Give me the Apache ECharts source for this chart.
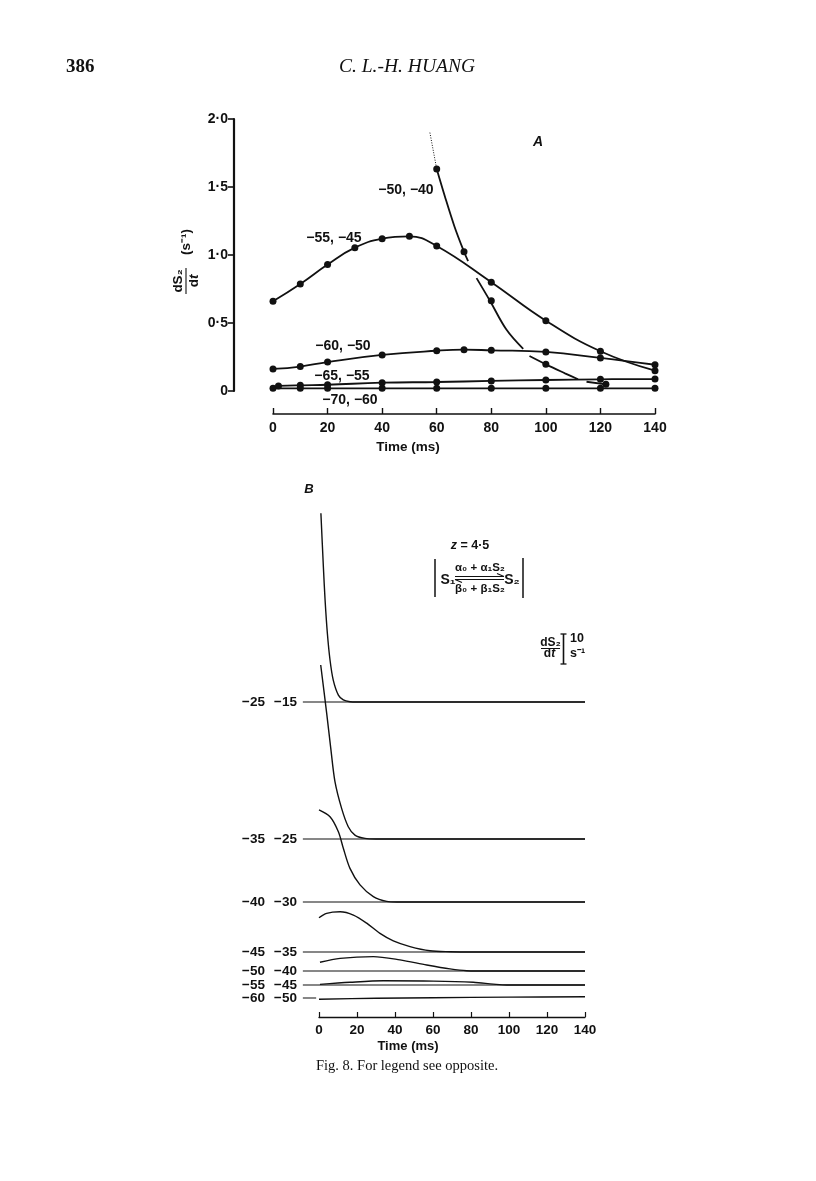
<!DOCTYPE html>
<html><head><meta charset="utf-8">
<script src="https://cdn.jsdelivr.net/npm/echarts@6/dist/echarts.min.js"></script>
<style>html,body{margin:0;padding:0;background:#fff}#c{width:816px;height:1181px}</style>
</head><body><div id="c"></div>
<script>
// ================= DATA =================
// Panel A : dS2/dt (s^-1) vs time (ms); pairs of potentials label each curve
const tA_7060 = [0,10,20,40,60,80,100,120,140];
const vA_7060 = [0.02,0.02,0.02,0.02,0.02,0.02,0.02,0.02,0.02];
const tA_6555 = [2,10,20,40,60,80,100,120,140];
const vA_6555 = [0.037,0.042,0.046,0.061,0.066,0.074,0.081,0.086,0.088];
const tA_6050 = [0,10,20,40,60,70,80,100,120,140];
const vA_6050 = [0.162,0.18,0.213,0.265,0.296,0.304,0.299,0.287,0.243,0.193];
const tA_5545 = [0,10,20,30,40,50,60,80,100,120,140];
const vA_5545 = [0.66,0.787,0.93,1.054,1.12,1.137,1.066,0.80,0.517,0.292,0.149];
const tA_5040 = [60,70,80,100,122];
const vA_5040 = [1.632,1.024,0.664,0.196,0.049];
// hand-drawn curve through the -50,-40 points, broken (null) where it crosses other curves
const curveT_5040 = [60,63,66.5,70,71.5,null,74.6,79.5,85.6,91.7,null,94,100,107,111.8,null,114.9,122];
const curveV_5040 = [1.632,1.43,1.21,1.024,0.955,null,0.83,0.664,0.45,0.31,null,0.257,0.196,0.13,0.086,null,0.068,0.049];
const dotT_5040 = [57.5,60];
const dotV_5040 = [1.9,1.632];
const labelsA = ['−70, −60','−65, −55','−60, −50','−55, −45','−50, −40'];

// Panel B : simulated dS2/dt traces (s^-1), each on its own baseline
const labelsB_left  = ['−25','−35','−40','−45','−50','−55','−60'];
const labelsB_right = ['−15','−25','−30','−35','−40','−45','−50'];
const trB_2515 = [[1,62.9],[2.3,45.1],[3.2,34],[4.4,22.9],[5.8,14],[7.5,7.3],[10.2,2.3],[12.8,0.7],[16.3,0.1],[20,0],[140,0]];
const trB_3525 = [[0.9,58],[4.05,41.9],[6.2,30.2],[8.4,19.1],[11.9,10.2],[15.4,4.1],[18.9,1.3],[24.2,0.2],[30,0],[140,0]];
const trB_4030 = [[0,30.7],[5.8,28.4],[10.2,23.4],[12.8,17.9],[16.3,11.2],[21.6,5.7],[28.6,1.8],[35.6,0.2],[41,0],[140,0]];
const trB_4535 = [[0,11.4],[4,12.9],[11.1,13.4],[18.1,12.3],[25.1,9.6],[32.1,6.2],[39.1,3.7],[47.9,1.8],[58.4,0.4],[69,0.1],[80,0],[140,0]];
const trB_5040 = [[0.5,2.9],[11.1,4.2],[28.6,4.8],[42.6,3.7],[56.7,2.0],[68.9,0.7],[77.7,0.1],[90,0],[140,0]];
const trB_5545 = [[0.5,0.2],[16.3,0.9],[33.8,1.4],[60.2,1.3],[81.2,0.9],[91.7,0.3],[98.8,0],[140,0]];
const trB_6050 = [[0,-0.4],[30,-0.1],[60,0.1],[100,0.3],[140,0.4]];
const tracesB = [trB_2515,trB_3525,trB_4030,trB_4535,trB_5040,trB_5545,trB_6050];
const scaleBarB = 10; // s^-1

// ================= LAYOUT / STYLE =================
const INK = '#111111';
const SANS = '"Liberation Sans", Arial, sans-serif';
const SERIF = '"Liberation Serif", "Times New Roman", serif';
const baselineYB = [702, 839, 902, 952, 971, 985, 998];
const baselineEndB = [140,140,140,140,140,140,-1.5];
const pxPerUnitB = 3;
const BX_LEFT = 300, BX_RIGHT = 231, B_TMIN = -10;

const chart = echarts.init(document.getElementById('c'), null, {renderer:'canvas'});

const grids = [], xAxes = [], yAxes = [], series = [];

// Panel A grid
grids.push({left:273, right:161, top:119, bottom:1181-391, outerBoundsMode:'none', containLabel:false});
xAxes.push({gridIndex:0, type:'value', min:0, max:140, interval:20, offset:23,
  axisLine:{show:true, onZero:false, lineStyle:{color:INK, width:1.6}},
  axisTick:{show:true, inside:true, length:6, lineStyle:{color:INK, width:1.4}},
  axisLabel:{color:INK, fontFamily:SANS, fontSize:14, fontWeight:'bold', margin:7},
  splitLine:{show:false}});
yAxes.push({gridIndex:0, type:'value', min:0, max:2, interval:0.5, offset:39,
  axisLine:{show:true, onZero:false, lineStyle:{color:INK, width:2.2}},
  axisTick:{show:true, inside:false, length:6, lineStyle:{color:INK, width:1.6}},
  axisLabel:{color:INK, fontFamily:SANS, fontSize:14, fontWeight:'bold', margin:6,
    formatter: v => v === 0 ? '0' : v.toFixed(1).replace('.', '·')},
  splitLine:{show:false}});

function zip(t, v){ return t.map((x,i) => (x === null ? ['-','-'] : [x, v[i]])); }
const lineA = {color:INK, width:1.8};
function ptsSeries(t, v, withLine){
  return {type:'line', xAxisIndex:0, yAxisIndex:0, data:zip(t,v), smooth:0.45,
    symbol:'circle', symbolSize:7, showSymbol:true,
    itemStyle:{color:INK}, lineStyle: withLine ? lineA : {width:0, opacity:0},
    silent:true, z:3};
}
series.push(ptsSeries(tA_7060, vA_7060, true));
series.push(ptsSeries(tA_6555, vA_6555, true));
series.push(ptsSeries(tA_6050, vA_6050, true));
series.push(ptsSeries(tA_5545, vA_5545, true));
series.push(ptsSeries(tA_5040, vA_5040, false));
series.push({type:'line', xAxisIndex:0, yAxisIndex:0, data:zip(curveT_5040, curveV_5040),
  smooth:0.35, showSymbol:false, symbol:'none', connectNulls:false, lineStyle:lineA, silent:true});
series.push({type:'line', xAxisIndex:0, yAxisIndex:0, data:zip(dotT_5040, dotV_5040),
  showSymbol:false, symbol:'none', lineStyle:{color:INK, width:1, type:[1,1.5]}, silent:true});

// Panel B axis grid
grids.push({left:319, right:BX_RIGHT, top:900, bottom:1181-1017, outerBoundsMode:'none', containLabel:false});
xAxes.push({gridIndex:1, type:'value', min:0, max:140, interval:20,
  axisLine:{show:true, onZero:false, lineStyle:{color:INK, width:1.3}},
  axisTick:{show:true, inside:true, length:5, lineStyle:{color:INK, width:1.2}},
  axisLabel:{color:INK, fontFamily:SANS, fontSize:13.5, fontWeight:'bold', margin:6},
  splitLine:{show:false}});
yAxes.push({gridIndex:1, type:'value', min:0, max:1, show:false});

// Panel B trace grids
const YMIN = -2, YMAX = 70;
tracesB.forEach((tr, i) => {
  const gi = grids.length;
  const base = baselineYB[i];
  grids.push({left:BX_LEFT, right:BX_RIGHT, top: base - YMAX*pxPerUnitB,
    height:(YMAX - YMIN)*pxPerUnitB, outerBoundsMode:'none', containLabel:false});
  xAxes.push({gridIndex:gi, type:'value', min:B_TMIN, max:140, show:false});
  yAxes.push({gridIndex:gi, type:'value', min:YMIN, max:YMAX, show:false});
  series.push({type:'line', xAxisIndex:gi, yAxisIndex:gi,
    data:[[-8.5,0],[baselineEndB[i],0]], showSymbol:false, symbol:'none',
    lineStyle:{color:INK, width:1.2}, silent:true});
  series.push({type:'line', xAxisIndex:gi, yAxisIndex:gi, data:tr, smooth:0.3,
    showSymbol:false, symbol:'none', lineStyle:{color:INK, width:1.4}, silent:true});
});

// ================= GRAPHIC TEXT =================
function T(x, y, text, o){
  o = o || {};
  return {type:'text', x:x, y:y, silent:true, z:10, style:Object.assign({text:text, fill:INK,
    font: (o.style||'normal') + ' ' + (o.weight||'normal') + ' ' + (o.size||14) + 'px ' + (o.family||SANS),
    align:o.align||'center', verticalAlign:o.va||'middle'}, o.rich ? {rich:o.rich} : {})};
}
function L(x1,y1,x2,y2,w){
  return {type:'line', silent:true, z:10, shape:{x1:x1,y1:y1,x2:x2,y2:y2}, style:{stroke:INK, lineWidth:w||1.3}};
}
const g = [];
// header / footer
g.push(T(66, 67, '386', {family:SERIF, weight:'bold', size:19, align:'left'}));
g.push(T(407, 67, 'C. L.-H. HUANG', {family:SERIF, style:'italic', size:19.5}));
g.push(T(407, 1066, 'Fig. 8. For legend see opposite.', {family:SERIF, size:14.5}));

// Panel A annotations
g.push(T(538, 142, 'A', {style:'italic', weight:'bold', size:14}));
const labelPosA = [[350,400],[342,376],[343,346],[334,238],[406,190]];
labelsA.forEach((s,i) => g.push(T(labelPosA[i][0], labelPosA[i][1], s, {size:14, weight:'bold'})));
g.push(T(408, 447, 'Time (ms)', {size:13.5, weight:'bold'}));
// y-axis title (rotated)
const itR = {i:{fontStyle:'italic', fontWeight:'bold', fontSize:13.5, fontFamily:SANS, fill:INK}};
g.push({type:'group', x:186, y:281, rotation:Math.PI/2, children:[
  T(0, -8, 'dS₂', {size:13.5, weight:'bold'}),
  L(-13, 0, 13, 0, 1.1),
  T(0, 8, 'd{i|t}', {size:13.5, weight:'bold', rich:itR}),
  T(39, 0, '(s⁻¹)', {size:13.5, weight:'bold'})
]});

// Panel B annotations
g.push(T(309, 489, 'B', {style:'italic', weight:'bold', size:13}));
baselineYB.forEach((y,i) => {
  g.push(T(265, y, labelsB_left[i], {size:13.5, weight:'bold', align:'right'}));
  g.push(T(297, y, labelsB_right[i], {size:13.5, weight:'bold', align:'right'}));
});
g.push(T(408, 1046, 'Time (ms)', {size:13, weight:'bold'}));
// equation box
g.push(T(470, 546, '{i|z} = 4·5', {size:12.5, weight:'bold', rich:{i:{fontStyle:'italic', fontWeight:'bold', fontSize:12.5, fontFamily:SANS, fill:INK}}}));
g.push(L(435, 559, 435, 597, 1.5));
g.push(L(523, 558, 523, 598, 1.5));
g.push(T(448, 580, 'S₁', {size:14, weight:'bold'}));
g.push(T(480, 568, 'α₀ + α₁S₂', {size:11.5, weight:'bold'}));
g.push(T(480, 589, 'β₀ + β₁S₂', {size:11.5, weight:'bold'}));
g.push(L(455, 576.5, 504, 576.5, 1.1));
g.push(L(504, 576.5, 497, 573.5, 1.1));
g.push(L(455, 579.5, 504, 579.5, 1.1));
g.push(L(455, 579.5, 462, 582.5, 1.1));
g.push(T(512, 580, 'S₂', {size:14, weight:'bold'}));
// scale bar
const barTop = 634, barH = scaleBarB * pxPerUnitB;
g.push(T(550.5, 642.5, 'dS₂', {size:12, weight:'bold'}));
g.push(L(541, 648.5, 560, 648.5, 1));
g.push(T(549.5, 654, 'd{i|t}', {size:12, weight:'bold', rich:{i:{fontStyle:'italic', fontWeight:'bold', fontSize:12, fontFamily:SANS, fill:INK}}}));
g.push(L(563.5, barTop, 563.5, barTop + barH, 1.6));
g.push(L(560.5, barTop, 566.5, barTop, 1.3));
g.push(L(560.5, barTop + barH, 566.5, barTop + barH, 1.3));
g.push(T(570, 638.5, String(scaleBarB), {size:12.5, weight:'bold', align:'left'}));
g.push(T(570, 654, 's⁻¹', {size:12.5, weight:'bold', align:'left'}));

chart.setOption({
  animation:false,
  backgroundColor:'#ffffff',
  grid:grids, xAxis:xAxes, yAxis:yAxes, series:series, graphic:g
});
</script></body></html>
